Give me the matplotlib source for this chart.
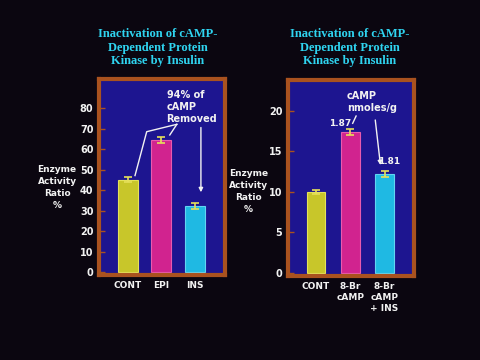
import matplotlib
matplotlib.use("Agg")
import matplotlib.pyplot as plt
import numpy as np

# ---- data ----
left_cats = ["CONT", "EPI", "INS"]
left_vals = [45.2, 64.6, 32.2]
left_errs = [1.1, 1.4, 1.5]
left_yticks = [0, 10, 20, 30, 40, 50, 60, 70, 80]

right_cats = ["CONT", "8-Br\ncAMP", "8-Br\ncAMP\n+ INS"]
right_vals = [10.0, 17.4, 12.2]
right_errs = [0.25, 0.4, 0.4]
right_yticks = [0, 5, 10, 15, 20]
right_camp = ["1.87", "1.81"]

title_text = "Inactivation of cAMP-\nDependent Protein\nKinase by Insulin"
ylabel_text = "Enzyme\nActivity\nRatio\n%"

# ---- styles ----
BG = "#0b0610"
BLUE = "#1d1590"
FRAME = "#a9521f"
BAR_COLORS = ["#c8c62a", "#d1238f", "#1fb9e3"]
BAR_EDGES = ["#e4e25a", "#e85aae", "#62d4f2"]
ERR = "#e6e05a"
TITLE = "#2fd4f0"
WHITE = "#f2f2f2"
SANS = "DejaVu Sans"

fig = plt.figure(figsize=(4.8, 3.6), dpi=100, facecolor=BG)

def frame_axes(rect, xlim, ylim):
    ax = fig.add_axes(rect)
    ax.set_facecolor(BLUE)
    for s in ax.spines.values():
        s.set_color(FRAME)
        s.set_linewidth(3.0)
    ax.set_xlim(*xlim)
    ax.set_ylim(*ylim)
    ax.tick_params(axis="y", direction="in", length=4, width=1, color=FRAME,
                   labelcolor=WHITE, labelsize=7, pad=4)
    ax.tick_params(axis="x", length=0, labelcolor=WHITE, labelsize=6.5, pad=4)
    return ax

# ---------------- left panel ----------------
axL = frame_axes([99/480, 1-275/360, 126/480, 196/360], (-0.866, 2.9), (-1.3, 94.3))
xl = np.arange(len(left_cats))
axL.bar(xl, left_vals, width=0.6, color=BAR_COLORS, edgecolor=BAR_EDGES, linewidth=0.8)
axL.errorbar(xl, left_vals, yerr=left_errs, fmt="none", ecolor=ERR, elinewidth=1.2,
             capsize=3, capthick=1.2)
axL.set_yticks(left_yticks)
axL.set_xticks(xl)
axL.set_xticklabels(left_cats, fontweight="bold", family=SANS)
for lab in axL.get_yticklabels():
    lab.set_fontweight("bold")

axL.text(1.155, 80.8, "94% of\ncAMP\nRemoved", color=WHITE, fontsize=7, fontweight="bold",
         ha="left", va="center", linespacing=1.25)
axL.plot([1.46, 0.56, 0.21], [72.2, 68.6, left_vals[0] + 2], color=WHITE, lw=1)
axL.plot([1.46, 1.25], [72.2, left_vals[1] + left_errs[1] + 1], color=WHITE, lw=1)
axL.annotate("", xy=(2.18, left_vals[2] + left_errs[2] + 4), xytext=(2.18, 72),
             arrowprops=dict(arrowstyle="-|>", color=WHITE, lw=1, mutation_scale=6))

axL.text(-2.12, 41.5, ylabel_text, color=WHITE, fontsize=6.5, fontweight="bold",
         ha="center", va="center", linespacing=1.45)

# ---------------- right panel ----------------
axR = frame_axes([288/480, 1-276/360, 126/480, 196/360], (-0.818, 2.86), (-0.41, 23.8))
xr = np.arange(len(right_cats))
axR.bar(xr, right_vals, width=0.55, color=BAR_COLORS, edgecolor=BAR_EDGES, linewidth=0.8)
axR.errorbar(xr, right_vals, yerr=right_errs, fmt="none", ecolor=ERR, elinewidth=1.2,
             capsize=3, capthick=1.2)
axR.set_yticks(right_yticks)
axR.set_xticks(xr)
axR.set_xticklabels(right_cats, fontweight="bold", family=SANS, linespacing=1.3, va="top")
for lab in axR.get_yticklabels():
    lab.set_fontweight("bold")

axR.text(0.895, 21.05, "cAMP\nnmoles/g", color=WHITE, fontsize=7, fontweight="bold",
         ha="left", va="center", linespacing=1.3)
axR.text(0.71, 18.45, right_camp[0], color=WHITE, fontsize=6.5, fontweight="bold",
         ha="center", va="center")
axR.plot([1.07, 1.17], [18.45, 19.35], color=WHITE, lw=1)
axR.text(2.13, 13.7, right_camp[1], color=WHITE, fontsize=6.5, fontweight="bold",
         ha="center", va="center")
axR.annotate("", xy=(1.89, 12.95), xytext=(1.72, 19.2),
             arrowprops=dict(arrowstyle="-|>", color=WHITE, lw=1, mutation_scale=6))

axR.text(-1.98, 10.0, ylabel_text, color=WHITE, fontsize=6.5, fontweight="bold",
         ha="center", va="center", linespacing=1.45)

# ---------------- titles ----------------
for cx in (158/480, 350/480):
    fig.text(cx, 1-47.5/360, title_text, color=TITLE, fontsize=9, fontweight="bold",
             family="Liberation Serif", ha="center", va="center", linespacing=1.15)

fig.savefig("out.png", dpi=100, facecolor=BG)
